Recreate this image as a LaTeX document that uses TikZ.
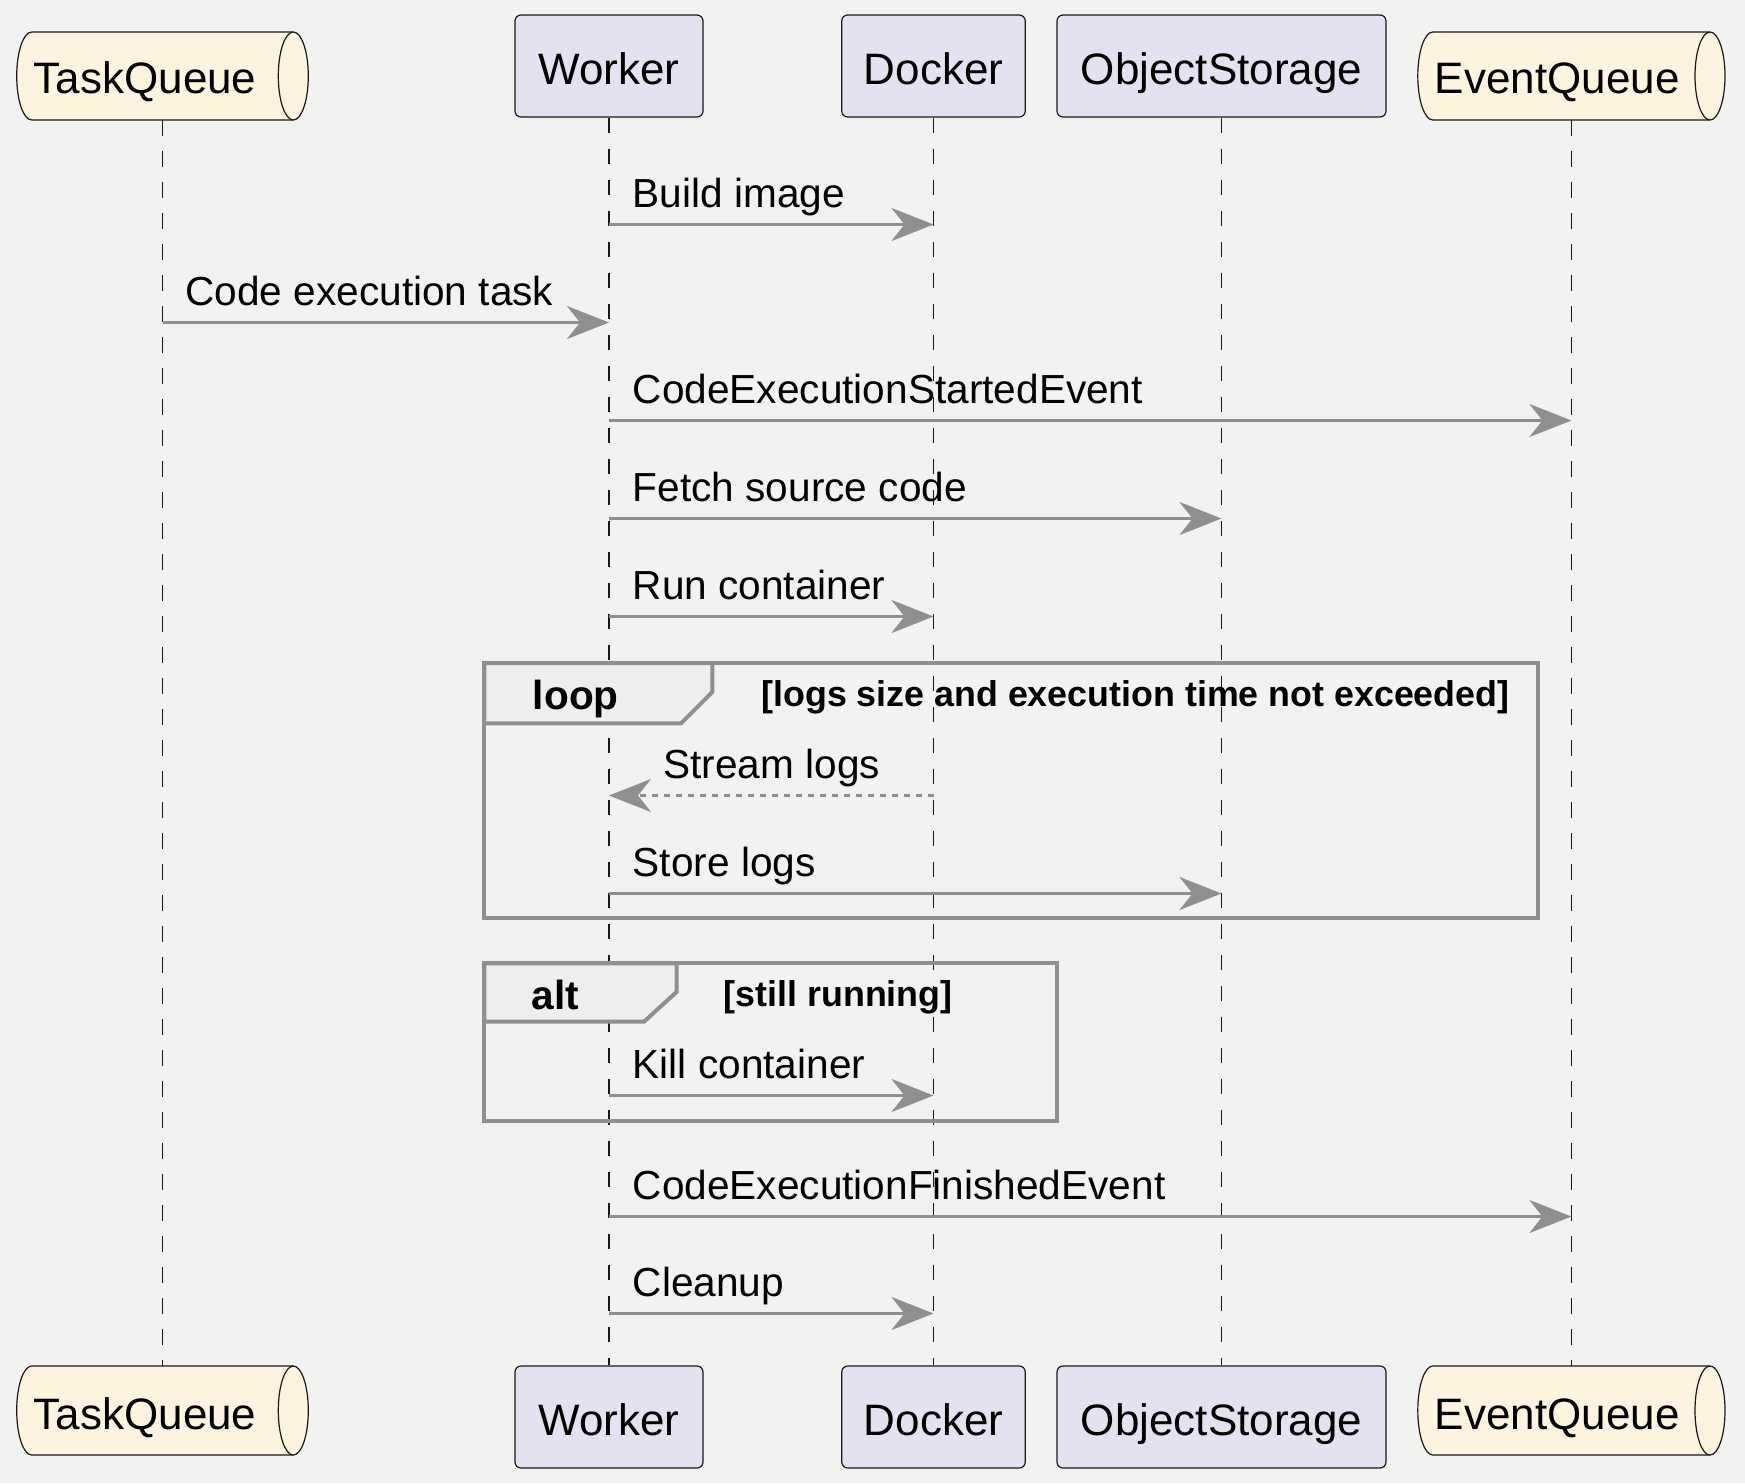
\documentclass[tikz,border=0pt]{standalone}
\usepackage{fontspec}
\setmainfont{Liberation Sans}
\usetikzlibrary{arrows.meta}
\definecolor{bg}{HTML}{F2F2F0}
\definecolor{partfill}{HTML}{E2E2F0}
\definecolor{queuefill}{HTML}{FCF4DE}
\definecolor{edgecol}{HTML}{181818}
\definecolor{arrowgray}{HTML}{8F8F8F}
\definecolor{tabfill}{HTML}{EEEEEE}
\newcommand\partfont{\fontsize{22}{26}\selectfont}
\newcommand\msgfont{\fontsize{20.3}{24}\selectfont}
\newcommand\grpfont{\fontsize{20.3}{24}\selectfont\bfseries}
\newcommand\guardfont{\fontsize{17.9}{21}\selectfont\bfseries}
% queue (cylinder) outline: x0, x1, y0, y1 in px
\newcommand\qshape[4]{%
  \pgfmathsetmacro\qxa{#1+15}%
  \pgfmathsetmacro\qxb{#2-15}%
  \pgfmathsetmacro\qry{(#4-#3)/4}%
  \draw[qline,fill=queuefill] (\qxa,#3) -- (\qxb,#3)
     arc[start angle=90,end angle=-90,x radius=7.5pt,y radius=\qry pt]
     -- (\qxa,#4)
     arc[start angle=270,end angle=90,x radius=7.5pt,y radius=\qry pt] -- cycle;
  \draw[qline] (\qxb,#3) arc[start angle=90,end angle=270,x radius=7.5pt,y radius=\qry pt];
}
\begin{document}
\begin{tikzpicture}[x=0.5pt,y=-0.5pt,
  part/.style={draw=edgecol, fill=partfill, line width=0.6pt, rounded corners=3pt,
    inner sep=0pt, minimum height=51pt, text height=21.5pt, text depth=3pt, font=\partfont},
  qbox/.style={inner sep=0pt, minimum height=44pt},
  qtext/.style={anchor=base west, inner sep=0pt, font=\partfont},
  qline/.style={draw=edgecol, line width=0.6pt},
  lifeline/.style={draw=edgecol, line width=0.65pt, dash pattern=on 7.75pt off 7.75pt},
  msg/.style={draw=arrowgray, line width=1.5pt, -{Stealth[length=21pt,width=16.5pt,inset=6.5pt]}},
  rmsg/.style={msg, dash pattern=on 3pt off 3pt},
  msglabel/.style={anchor=base west, inner sep=0pt, font=\msgfont},
  frameline/.style={draw=arrowgray, line width=2pt},
  tab/.style={draw=arrowgray, line width=2pt, fill=tabfill},
  grplabel/.style={anchor=base west, inner sep=0pt, font=\grpfont},
  guardlabel/.style={anchor=base west, inner sep=0pt, font=\guardfont}
]
\fill[bg] (0,0) rectangle (1745,1483);
\useasboundingbox (0,0) rectangle (1745,1483);

% ---- participants (top) ----
\qshape{16.7}{308.3}{32}{120}
\node[qbox, minimum width=145.8pt] (tq1) at (162.5,76) {};
\node[qtext] (tq1t) at (33.4,93) {TaskQueue};
\node[part, minimum width=94pt] (w1) at (609,66) {Worker};
\node[part, minimum width=91.75pt] (d1) at (933.5,66) {Docker};
\node[part, minimum width=164.5pt] (o1) at (1221.5,66) {ObjectStorage};
\qshape{1417.8}{1725}{32}{120}
\node[qbox, minimum width=153.6pt] (eq1) at (1571.4,76) {};
\node[qtext] (eq1t) at (1434.5,93) {EventQueue};

% ---- participants (bottom) ----
\qshape{16.7}{308.3}{1366}{1455}
\node[qbox, minimum width=145.8pt, minimum height=44.5pt] (tq2) at (162.5,1410.5) {};
\node[qtext] (tq2t) at (33.4,1429) {TaskQueue};
\node[part, minimum width=94pt] (w2) at (609,1417) {Worker};
\node[part, minimum width=91.75pt] (d2) at (933.5,1417) {Docker};
\node[part, minimum width=164.5pt] (o2) at (1221.5,1417) {ObjectStorage};
\qshape{1417.8}{1725}{1366}{1455}
\node[qbox, minimum width=153.6pt, minimum height=44.5pt] (eq2) at (1571.4,1410.5) {};
\node[qtext] (eq2t) at (1434.5,1429) {EventQueue};

% ---- lifelines ----
\draw[lifeline] (tq1.south) -- (tq2.north);
\draw[lifeline] (w1.south) -- (w2.north);
\draw[lifeline] (d1.south) -- (d2.north);
\draw[lifeline] (o1.south) -- (o2.north);
\draw[lifeline] (eq1.south) -- (eq2.north);

% ---- group frames ----
\draw[frameline] (484.3,663) rectangle (1537.7,918);
\draw[tab] (484.3,663) -- (712.3,663) -- (712.3,692) -- (681,723.4) -- (484.3,723.4) -- cycle;
\node[grplabel] (looplbl) at (532.5,709.3) {loop};
\node[guardlabel] (loopguard) at (761,706) {[logs size and execution time not exceeded]};

\draw[frameline] (484.3,963.3) rectangle (1057.4,1120.7);
\draw[tab] (484.3,963.3) -- (676.5,963.3) -- (676.5,992) -- (644,1021.7) -- (484.3,1021.7) -- cycle;
\node[grplabel] (altlbl) at (531.5,1009) {alt};
\node[guardlabel] (altguard) at (723.5,1006) {[still running]};

% ---- messages ----
\draw[msg] (w1 |- 0,224.5) -- (d1 |- 0,224.5);
\node[msglabel] (l1) at (632.4,207.7) {Build image};

\draw[msg] (tq1 |- 0,322.5) -- (w1 |- 0,322.5);
\node[msglabel] (l2) at (185,305.7) {Code execution task};

\draw[msg] (w1 |- 0,420.5) -- (eq1 |- 0,420.5);
\node[msglabel] (l3) at (632.4,403.7) {CodeExecutionStartedEvent};

\draw[msg] (w1 |- 0,518.5) -- (o1 |- 0,518.5);
\node[msglabel] (l4) at (632.4,501.7) {Fetch source code};

\draw[msg] (w1 |- 0,616.5) -- (d1 |- 0,616.5);
\node[msglabel] (l5) at (632.4,599.7) {Run container};

\draw[rmsg] (d1 |- 0,795.5) -- (w1 |- 0,795.5);
\node[msglabel] (l6) at (663,778.7) {Stream logs};

\draw[msg] (w1 |- 0,893.5) -- (o1 |- 0,893.5);
\node[msglabel] (l7) at (632.4,876.7) {Store logs};

\draw[msg] (w1 |- 0,1095.5) -- (d1 |- 0,1095.5);
\node[msglabel] (l8) at (632.4,1078.7) {Kill container};

\draw[msg] (w1 |- 0,1216.5) -- (eq1 |- 0,1216.5);
\node[msglabel] (l9) at (632.4,1199.7) {CodeExecutionFinishedEvent};

\draw[msg] (w1 |- 0,1313.5) -- (d1 |- 0,1313.5);
\node[msglabel] (l10) at (632.4,1296.7) {Cleanup};
\end{tikzpicture}
\end{document}
